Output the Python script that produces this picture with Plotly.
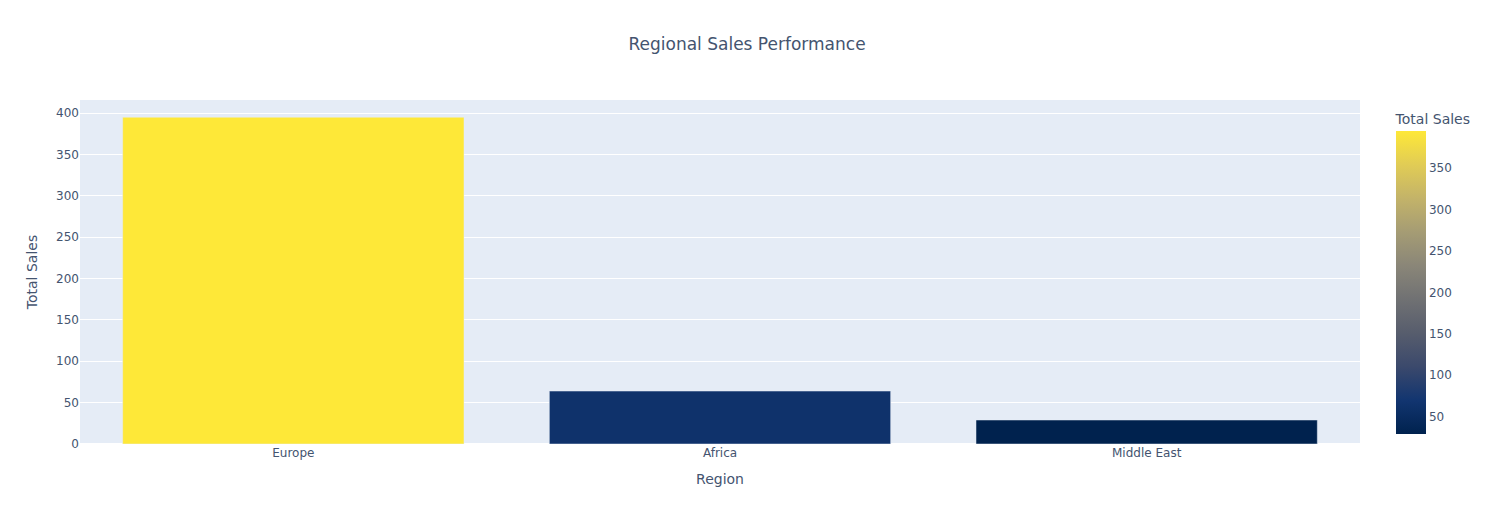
import pandas as pd
import plotly.express as px

regions = ["Europe", "Africa", "Middle East"]
total_sales = [395, 64, 29]

df = pd.DataFrame({"Region": regions, "Total Sales": total_sales})

fig = px.bar(
    df,
    x="Region",
    y="Total Sales",
    color="Total Sales",
    color_continuous_scale="Cividis",
    title="Regional Sales Performance",
)

# page body has an 8px margin, so shave it off the figure's own margins
fig.update_layout(
    width=1487,
    height=517,
    margin=dict(l=72, r=135, t=92, b=81, autoexpand=False),
    title=dict(x=0.497, y=0.93, yanchor="middle"),
    font=dict(family="Verdana, DejaVu Sans, sans-serif", color="#44546f"),
)

fig.write_html("out.html")
